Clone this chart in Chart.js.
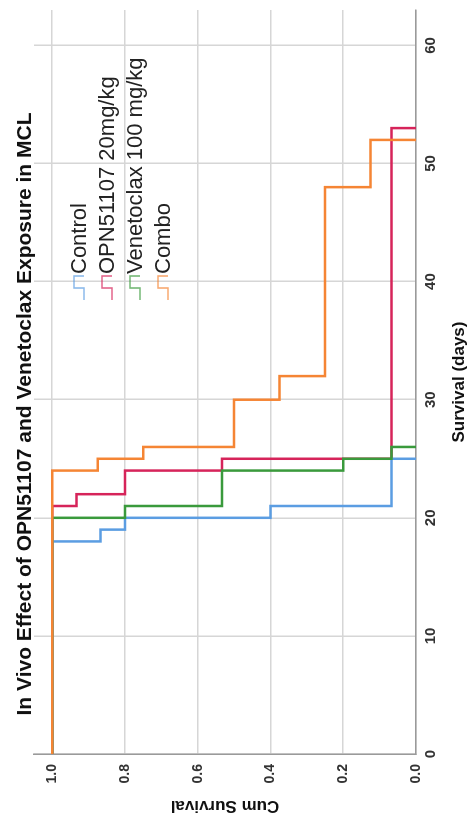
<!DOCTYPE html>
<html>
<head>
<meta charset="utf-8">
<title>In Vivo Effect of OPN51107 and Venetoclax Exposure in MCL</title>
<script src="https://cdn.jsdelivr.net/npm/chart.js@4.4.1/dist/chart.umd.min.js"></script>
<style>
  html, body { margin: 0; padding: 0; background: #fff; overflow: hidden; }
  /* el grafico se dibuja apaisado y luego se gira 90 grados a la izquierda */
  #wrap {
    position: absolute; left: 0; top: 0; width: 818px; height: 473px;
    transform-origin: 0 0; transform: translateY(818px) rotate(-90deg);
  }
</style>
</head>
<body>
<div id="wrap"><canvas id="chartKM" width="818" height="473"></canvas></div>
<script>
const titulo = "In Vivo Effect of OPN51107 and Venetoclax Exposure in MCL";
const grupos = ["Control", "OPN51107 20mg/kg", "Venetoclax 100 mg/kg", "Combo"];

// dias y supervivencia acumulada de cada grupo (Kaplan-Meier)
const diasControl = [0, 18, 19, 20, 21, 25];
const survControl = [1, 0.867, 0.8, 0.4, 0.067, 0];
const diasOPN = [0, 21, 22, 24, 25, 53];
const survOPN = [1, 0.933, 0.8, 0.533, 0.067, 0];
const diasVenetoclax = [0, 20, 21, 24, 25, 26];
const survVenetoclax = [1, 0.8, 0.533, 0.2, 0.067, 0];
const diasCombo = [0, 24, 25, 26, 30, 32, 48, 52];
const survCombo = [1, 0.875, 0.75, 0.5, 0.375, 0.25, 0.125, 0];

const colores = ["#5b9de2", "#d6245a", "#3a9a3c", "#f58534"];
const ordenDibujo = [2, 3, 1, 0];

const fuente = "'Liberation Sans', Arial, sans-serif";

function puntos(dias, surv) {
  return dias.map((d, i) => ({ x: d, y: surv[i] }));
}

const series = [
  puntos(diasControl, survControl),
  puntos(diasOPN, survOPN),
  puntos(diasVenetoclax, survVenetoclax),
  puntos(diasCombo, survCombo),
];

// leyenda con el simbolo escalonado, dentro del area del grafico
const leyendaKM = {
  id: "leyendaKM",
  afterDraw(chart) {
    const ctx = chart.ctx;
    ctx.save();
    ctx.font = "22px " + fuente;
    ctx.textBaseline = "middle";
    chart.data.datasets.forEach((ds, i) => {
      const y = 79 + i * 28;
      const x0 = 518;
      ctx.globalAlpha = 0.7;
      ctx.strokeStyle = ds.borderColor;
      ctx.lineWidth = 1.6;
      ctx.beginPath();
      ctx.moveTo(x0, y + 5);
      ctx.lineTo(x0 + 12, y + 5);
      ctx.lineTo(x0 + 12, y - 5);
      ctx.lineTo(x0 + 24, y - 5);
      ctx.lineTo(x0 + 24, y + 5);
      ctx.stroke();
      ctx.globalAlpha = 1;
      ctx.fillStyle = "#222";
      ctx.fillText(ds.label, x0 + 26, y + 1);
    });
    ctx.restore();
  },
};

new Chart(document.getElementById("chartKM"), {
  type: "line",
  data: {
    datasets: grupos.map((g, i) => ({
      label: g,
      data: series[i],
      borderColor: colores[i],
      backgroundColor: colores[i],
      borderWidth: 2.5,
      stepped: "before",
      pointRadius: 0,
      fill: false,
      order: ordenDibujo[i],
    })),
  },
  options: {
    responsive: false,
    animation: false,
    layout: { padding: { top: 0, right: 10, bottom: 0, left: 0 } },
    plugins: {
      legend: { display: false },
      tooltip: { enabled: false },
      title: {
        display: true,
        text: titulo,
        color: "#111",
        font: { family: fuente, size: 21, weight: "bold", lineHeight: 1 },
        padding: { top: 15, bottom: -2 },
      },
    },
    scales: {
      x: {
        type: "linear",
        min: 0,
        max: 63,
        afterFit: (scale) => { scale.height = 57; },
        grid: { color: "#d6d6d6", lineWidth: 1.5, drawTicks: false },
        border: { color: "#9a9a9a", width: 1.5 },
        ticks: {
          stepSize: 10,
          includeBounds: false,
          padding: 6,
          color: "#333",
          font: { family: fuente, size: 15, weight: "bold" },
        },
        title: {
          display: true,
          text: "Survival (days)",
          color: "#111",
          font: { family: fuente, size: 17, weight: "bold" },
          padding: { top: 0, bottom: 3 },
        },
      },
      y: {
        type: "linear",
        min: 0,
        max: 1.05,
        afterFit: (scale) => { scale.width = 64; },
        grid: { color: "#d6d6d6", lineWidth: 1.5, drawTicks: false },
        border: { color: "#9a9a9a", width: 1.5 },
        ticks: {
          stepSize: 0.2,
          includeBounds: false,
          padding: 10,
          color: "#333",
          font: { family: fuente, size: 14, weight: "bold" },
          callback: (v) => Number(v).toFixed(1),
        },
        title: {
          display: true,
          text: "Cum Survival",
          color: "#111",
          font: { family: fuente, size: 17, weight: "bold" },
          padding: { top: 2, bottom: 0 },
        },
      },
    },
  },
  plugins: [leyendaKM],
});
</script>
</body>
</html>
